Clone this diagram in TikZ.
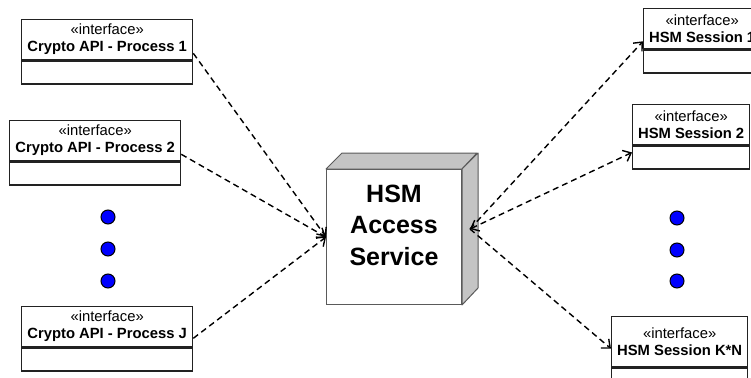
\documentclass[tikz,border=0pt]{standalone}
\usepackage{fontspec}
\setmainfont{Liberation Sans}
\usetikzlibrary{arrows.meta,calc}

\definecolor{boxline}{HTML}{222222}
\definecolor{cubeline}{HTML}{5A5A5A}
\definecolor{cubeside}{HTML}{C4C4C4}
\definecolor{dotblue}{HTML}{0000FF}

\begin{document}
\begin{tikzpicture}[x=1pt,y=-1pt,
  ifhead/.style={draw=boxline, line width=1.3pt, fill=white, minimum height=40pt,
    inner sep=0pt, align=center, font=\fontsize{14.8}{17}\selectfont},
  ifbody/.style={draw=boxline, line width=1.3pt, fill=white, minimum height=23pt, inner sep=0pt},
  barb/.tip={Straight Barb[length=7pt,width=12pt]},
  dep/.style={dash pattern=on 6pt off 4pt, line width=1.4pt, -barb},
  dot/.style={circle, draw=black, line width=1pt, fill=dotblue, minimum size=14pt, inner sep=0pt},
]
\useasboundingbox (0,0) rectangle (751,377);
\clip (0,0) rectangle (751,377);

% client-side interfaces
\node[ifhead, minimum width=171pt, anchor=north west] (p1) at (21,19)
  {«interface»\\\textbf{Crypto API - Process 1}};
\node[ifbody, minimum width=171pt, anchor=north] (p1b) at (p1.south) {};

\node[ifhead, minimum width=171pt, anchor=north west] (p2) at (9,120)
  {«interface»\\\textbf{Crypto API - Process 2}};
\node[ifbody, minimum width=171pt, anchor=north] (p2b) at (p2.south) {};

\node[ifhead, minimum width=171pt, anchor=north west] (pj) at (21,306)
  {«interface»\\\textbf{Crypto API - Process J}};
\node[ifbody, minimum width=171pt, anchor=north] (pjb) at (pj.south) {};

\node[dot] (ld1) at (108,217) {};
\node[dot] (ld2) at (108,249) {};
\node[dot] (ld3) at (108,281) {};

% session-side interfaces
\node[ifhead, minimum width=117pt, anchor=north west] (s1) at (643,8)
  {«interface»\\\textbf{HSM Session 1}};
\node[ifbody, minimum width=117pt, anchor=north] (s1b) at (s1.south) {};

\node[ifhead, minimum width=117pt, anchor=north west] (s2) at (632,104)
  {«interface»\\\textbf{HSM Session 2}};
\node[ifbody, minimum width=117pt, anchor=north] (s2b) at (s2.south) {};

\node[ifhead, minimum width=136pt, anchor=north west, minimum height=50pt] (sk) at (611,316)
  {«interface»\\\textbf{HSM Session K*N}};
\node[ifbody, minimum width=136pt, anchor=north] (skb) at (sk.south) {};

\node[dot] (rd1) at (677,218) {};
\node[dot] (rd2) at (677,250) {};
\node[dot] (rd3) at (677,281) {};

% the service node (3D box)
\node[draw=cubeline, line width=1pt, fill=white, minimum width=135pt, minimum height=135pt,
  inner sep=0pt, anchor=north west] (hsm) at (326,169) {};
\filldraw[draw=cubeline, fill=cubeside, line width=1pt, line join=round]
  (hsm.north west) -- ++(16,-16) -- ++(135,0) -- (hsm.north east) -- cycle;
\filldraw[draw=cubeline, fill=cubeside, line width=1pt, line join=round]
  (hsm.north east) -- ++(16,-16) -- ++(0,135) -- (hsm.south east) -- cycle;
\node[font=\fontsize{25}{31.5}\selectfont\bfseries, align=center] (hsmtxt)
  at ([yshift=12pt]hsm.center) {HSM\\Access\\Service};
\coordinate (hsmR) at ($(hsm.east)+(8,-8)$);

% dependencies
\draw[dep] ([yshift=7pt]p1.south east) -- (hsm.west);
\draw[dep] ([yshift=7pt]p2.south east) -- (hsm.west);
\draw[dep] ([yshift=9pt]pj.south east) -- (hsm.west);

\draw[dep] (hsmR) -- ([yshift=8pt]s1.south west);
\draw[dep, barb-barb] (hsmR) -- ([yshift=5pt]s2b.west);
\draw[dep] (hsmR) -- ([yshift=-7pt]sk.west);
\end{tikzpicture}
\end{document}
